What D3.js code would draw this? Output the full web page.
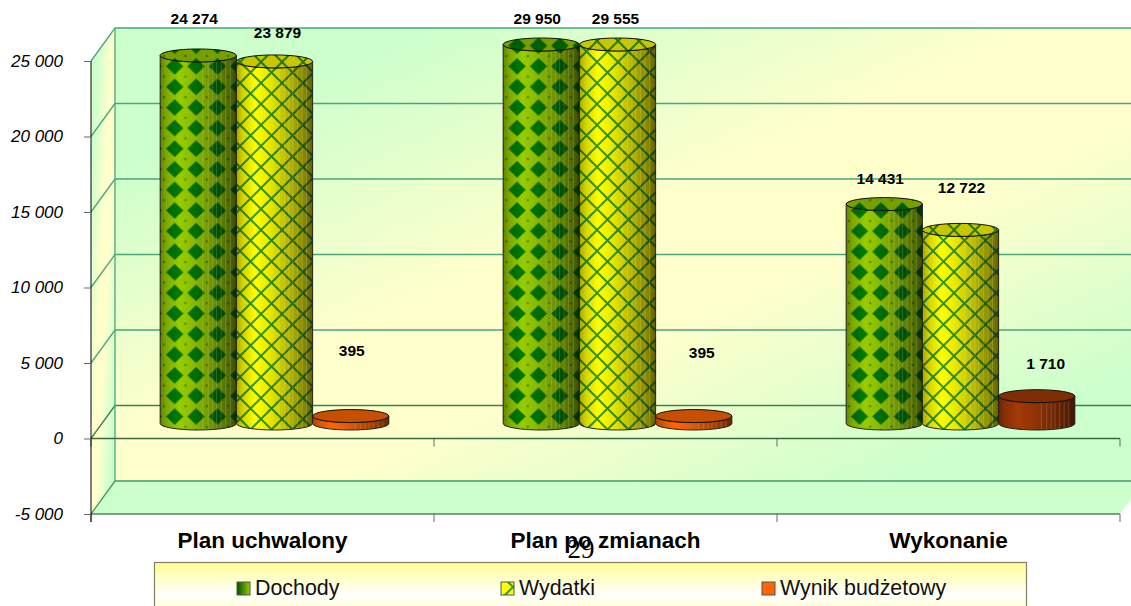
<!DOCTYPE html>
<html>
<head>
<meta charset="utf-8">
<script src="https://cdn.jsdelivr.net/npm/d3@7"></script>
<style>
  html, body { margin: 0; padding: 0; background: #fff; overflow: hidden; }
  text { font-family: "Liberation Sans", Arial, sans-serif; }
</style>
</head>
<body>
<script>
const categories = ['Plan uchwalony', 'Plan po zmianach', 'Wykonanie'];
const seriesNames = ['Dochody', 'Wydatki', 'Wynik budżetowy'];
const dochody = [24274, 29950, 14431];
const wydatki = [23879, 29555, 12722];
const wynik = [395, 395, 1710];
const yTicks = [-5000, 0, 5000, 10000, 15000, 20000, 25000];
const pageNumber = '29';

// label placement relative to the cylinder top, [dx, dy], same order as the values
const labelNudge = [
  [[-4, -33], [-4, -22], [-4, -22]],
  [[3, -25], [-2, -22], [1, -38]],
  [[1, -62], [8, -60], [9, -29]]
];
const legendX = [237, 501, 762];

const svgWidth = 1131;
const svgHeight = 606;
const plotLeft = 91;
const plotRight = 1120;
const plotTop = 61;
const plotBottom = 514;
const depthX = 24;
const depthY = -33;
const cylOffsetX = 12;
const cylOffsetY = -15;
const cylTopLift = 1.5;
const ry = 6.5;

const values = [dochody, wydatki, wynik];
const fmt = d3.formatLocale({ decimal: ',', thousands: ' ', grouping: [3], minus: '-', currency: ['', ''] }).format(',d');

const svg = d3
  .select('body')
  .append('svg')
  .attr('width', svgWidth)
  .attr('height', svgHeight)
  .style('display', 'block');

const defs = svg.append('defs');

// SCALES
const yScale = d3.scaleLinear().domain([-5000, 25000]).range([plotBottom, plotTop]).clamp(true);
const xScale = d3.scaleBand().domain(categories).range([plotLeft, plotRight]);
const barScale = d3
  .scaleBand()
  .domain(seriesNames)
  .range([0, xScale.bandwidth()])
  .paddingInner(0)
  .paddingOuter(0.75);

// GRADIENTS
const wallGrad = defs
  .append('linearGradient')
  .attr('id', 'wall')
  .attr('x1', 0).attr('y1', 0).attr('x2', 1).attr('y2', 1);
[[0, '#ccffcc'], [0.15, '#ccffcc'], [0.45, '#ffffcc'], [0.6, '#ffffcc'], [0.88, '#ccffcc'], [1, '#ccffcc']].forEach(s =>
  wallGrad.append('stop').attr('offset', s[0]).attr('stop-color', s[1])
);

const shade = defs.append('linearGradient').attr('id', 'shade');
[[0, 0.35], [0.08, 0.18], [0.25, 0], [0.45, 0.1], [0.7, 0.3], [0.9, 0.48], [1, 0.62]].forEach(s =>
  shade.append('stop').attr('offset', s[0]).attr('stop-color', '#000').attr('stop-opacity', s[1])
);

const legendGrad = defs
  .append('linearGradient')
  .attr('id', 'legendBg')
  .attr('x1', 0).attr('y1', 0).attr('x2', 0).attr('y2', 1);
[[0, '#ffff99'], [0.55, '#ffffff'], [1, '#ffff99']].forEach(s =>
  legendGrad.append('stop').attr('offset', s[0]).attr('stop-color', s[1])
);

const swatchGreen = defs.append('linearGradient').attr('id', 'swatchGreen');
[[0, '#005000'], [1, '#99cc00']].forEach(s =>
  swatchGreen.append('stop').attr('offset', s[0]).attr('stop-color', s[1])
);

// PATTERNS
const diamonds = defs
  .append('pattern')
  .attr('id', 'diamonds')
  .attr('patternUnits', 'userSpaceOnUse')
  .attr('x', 164).attr('y', 56)
  .attr('width', 21.4).attr('height', 20.6);
diamonds.append('rect').attr('width', 21.4).attr('height', 20.6).attr('fill', '#99cc00');
diamonds.append('path').attr('d', 'M10.7,2 L19.4,10.3 L10.7,18.6 L2,10.3 Z').attr('fill', '#007a00');
diamonds.append('path').attr('d', 'M0,-1.5 L1.5,0 L0,1.5 L-1.5,0 Z M21.4,-1.5 L22.9,0 L21.4,1.5 L19.9,0 Z M0,19.1 L1.5,20.6 L0,22.1 L-1.5,20.6 Z M21.4,19.1 L22.9,20.6 L21.4,22.1 L19.9,20.6 Z').attr('fill', '#2f9a00');

const lattice = defs
  .append('pattern')
  .attr('id', 'lattice')
  .attr('patternUnits', 'userSpaceOnUse')
  .attr('x', 240).attr('y', 62)
  .attr('width', 21).attr('height', 21);
lattice.append('rect').attr('width', 21).attr('height', 21).attr('fill', '#ffff00');
lattice.append('path').attr('d', 'M0,0 L21,21 M21,0 L0,21').attr('stroke', '#3a9a10').attr('stroke-width', 2);

const barFills = ['url(#diamonds)', 'url(#lattice)', '#ff6600'];
const pointFill = (s, c) => (s === 2 && c === 2 ? '#a33a05' : barFills[s]);

// WALLS
const backRight = plotRight + depthX;
svg
  .append('path')
  .attr('d', `M${plotLeft},${plotBottom} L${plotLeft},${plotTop} L${plotLeft + depthX},${plotTop + depthY} L${plotLeft + depthX},${plotBottom + depthY} Z`)
  .attr('fill', 'url(#wall)');
svg
  .append('rect')
  .attr('x', plotLeft + depthX)
  .attr('y', plotTop + depthY)
  .attr('width', plotRight - plotLeft)
  .attr('height', plotBottom - plotTop)
  .attr('fill', 'url(#wall)');
svg
  .append('path')
  .attr('d', `M${plotLeft},${plotBottom} L${plotLeft + depthX},${plotBottom + depthY} L${backRight},${plotBottom + depthY} L${plotRight},${plotBottom} Z`)
  .attr('fill', '#ccffcc');

// GRIDLINES
svg
  .append('g')
  .selectAll('path')
  .data(yTicks)
  .enter()
  .append('path')
  .attr('d', d => {
    const y = yScale(d);
    return `M${plotLeft},${y} L${plotLeft + depthX},${y + depthY} L${backRight},${y + depthY}`;
  })
  .attr('fill', 'none')
  .attr('stroke', d => (d === 0 ? '#3f7f52' : d === -5000 ? '#3f9a66' : '#4aa67c'))
  .attr('stroke-width', 1.3);
svg
  .append('line')
  .attr('x1', plotLeft + depthX).attr('x2', plotLeft + depthX)
  .attr('y1', plotTop + depthY).attr('y2', plotBottom + depthY)
  .attr('stroke', '#4aa67c')
  .attr('stroke-width', 1.3);

// X-AXES
const separators = d3.range(categories.length + 1).map(i => plotLeft + xScale.step() * i);
[0, -5000].forEach(v => {
  const g = svg.append('g');
  g.append('line')
    .attr('x1', plotLeft).attr('x2', plotRight)
    .attr('y1', yScale(v)).attr('y2', yScale(v))
    .attr('stroke', v === 0 ? '#3a6b3e' : '#0b4a1a')
    .attr('stroke-width', v === 0 ? 1.6 : 1.2);
  g.selectAll('line.sep')
    .data(separators)
    .enter()
    .append('line')
    .attr('class', 'sep')
    .attr('x1', d => d).attr('x2', d => d)
    .attr('y1', yScale(v)).attr('y2', yScale(v) + 8)
    .attr('stroke', '#666');
});

const xAxis = d3.axisBottom(xScale).tickSize(0).tickPadding(18);
const xAxisG = svg.append('g').attr('transform', `translate(0, ${plotBottom})`).call(xAxis);
xAxisG.select('.domain').remove();
xAxisG
  .selectAll('text')
  .style('font-family', '"Liberation Sans", Arial, sans-serif')
  .style('font-size', '22.5px')
  .style('font-weight', 'bold')
  .attr('fill', '#000');

// Y-AXIS
const yAxis = d3.axisLeft(yScale).tickValues(yTicks).tickSize(7).tickPadding(21).tickFormat(fmt);
const yAxisG = svg.append('g').attr('transform', `translate(${plotLeft}, 0)`).call(yAxis);
yAxisG.select('.domain').attr('stroke', '#000').attr('d', `M0,${plotTop}V${plotBottom + 8}`);
yAxisG.selectAll('line').attr('stroke', '#666');
yAxisG
  .selectAll('text')
  .style('font-family', '"Liberation Sans", Arial, sans-serif')
  .style('font-size', '17px')
  .style('font-style', 'italic')
  .attr('fill', '#000');

// CYLINDERS
const streaks = [0.56, 0.63, 0.69, 0.74, 0.8, 0.86, 0.92];
values.forEach((vals, s) => {
  vals.forEach((v, c) => {
    const x0 = xScale(categories[c]) + barScale(seriesNames[s]) + cylOffsetX;
    const w = barScale.bandwidth();
    const x1 = x0 + w;
    const rx = w / 2;
    const yTop = yScale(v) + cylOffsetY - cylTopLift;
    const yBase = yScale(0) + cylOffsetY;
    const body = `M${x0},${yTop} A${rx},${ry} 0 0 0 ${x1},${yTop} L${x1},${yBase} A${rx},${ry} 0 0 1 ${x0},${yBase} Z`;
    const g = svg.append('g').attr('class', 'cylinder');
    g.append('path').attr('d', body).attr('fill', pointFill(s, c));
    g.append('path').attr('d', body).attr('fill', 'url(#shade)');
    g.selectAll('line')
      .data(streaks)
      .enter()
      .append('line')
      .attr('x1', d => x0 + w * d).attr('x2', d => x0 + w * d)
      .attr('y1', yTop + ry - 1).attr('y2', yBase + ry - 1)
      .attr('stroke', '#fff')
      .attr('stroke-opacity', 0.16);
    g.append('path').attr('d', body).attr('fill', 'none').attr('stroke', '#222').attr('stroke-width', 1);
    const cap = [x0 + rx, yTop];
    g.append('ellipse').attr('cx', cap[0]).attr('cy', cap[1]).attr('rx', rx).attr('ry', ry).attr('fill', pointFill(s, c));
    g.append('ellipse')
      .attr('cx', cap[0]).attr('cy', cap[1]).attr('rx', rx).attr('ry', ry)
      .attr('fill', '#000')
      .attr('fill-opacity', 0.22)
      .attr('stroke', '#111')
      .attr('stroke-width', 1);
  });
});

// VALUE LABELS
values.forEach((vals, s) => {
  svg
    .append('g')
    .selectAll('text')
    .data(vals)
    .enter()
    .append('text')
    .attr('x', (d, c) => xScale(categories[c]) + barScale(seriesNames[s]) + cylOffsetX + barScale.bandwidth() / 2 + labelNudge[s][c][0])
    .attr('y', (d, c) => yScale(d) + cylOffsetY + labelNudge[s][c][1])
    .attr('text-anchor', 'middle')
    .style('font-size', '15.5px')
    .style('font-weight', 'bold')
    .text(d => fmt(d));
});

// LEGEND
const legend = svg.append('g');
legend
  .append('rect')
  .attr('x', 154.5).attr('y', 562.5)
  .attr('width', 872).attr('height', 60)
  .attr('fill', 'url(#legendBg)')
  .attr('stroke', '#808060')
  .attr('stroke-width', 1.2);
const legendFills = ['url(#swatchGreen)', 'url(#lattice)', '#ff6600'];
seriesNames.forEach((name, i) => {
  legend
    .append('rect')
    .attr('x', legendX[i]).attr('y', 582)
    .attr('width', 13).attr('height', 13)
    .attr('fill', legendFills[i])
    .attr('stroke', '#555');
  legend
    .append('text')
    .attr('x', legendX[i] + 18).attr('y', 595)
    .style('font-size', '21.4px')
    .attr('fill', '#111')
    .text(name);
});

// PAGE NUMBER
svg
  .append('text')
  .attr('x', 581).attr('y', 558)
  .attr('text-anchor', 'middle')
  .style('font-family', '"Liberation Serif", serif')
  .style('font-size', '27px')
  .text(pageNumber);
</script>
</body>
</html>
